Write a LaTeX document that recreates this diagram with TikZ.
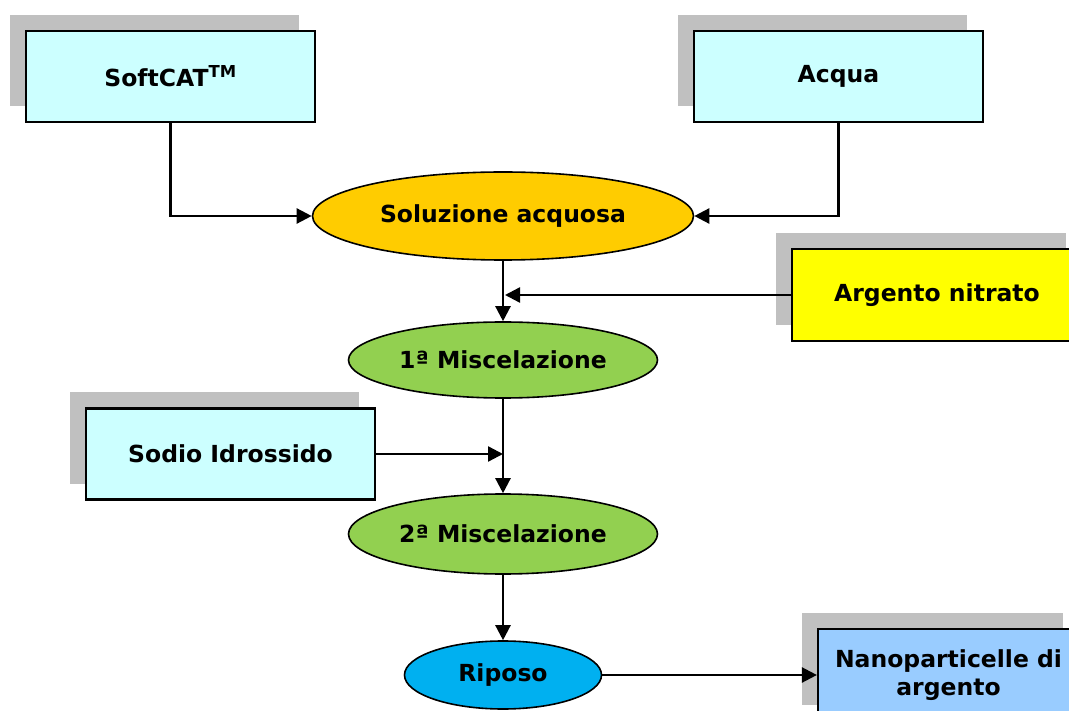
\documentclass[tikz,border=0pt]{standalone}
\usepackage{fontspec}
\setmainfont{DejaVu Sans}
\usetikzlibrary{shapes.geometric,arrows.meta,shadows}
\definecolor{cyanbox}{HTML}{CCFFFF}
\definecolor{orangeell}{HTML}{FFCC00}
\definecolor{yellowbox}{HTML}{FFFF00}
\definecolor{greenell}{HTML}{92D050}
\definecolor{blueell}{HTML}{00B0F0}
\definecolor{lightbluebox}{HTML}{99CCFF}
\definecolor{shadowgray}{HTML}{C0C0C0}
\tikzset{
  lbl/.style={font=\fontsize{23.5}{28}\selectfont\bfseries, text=black, align=center},
  boxnode/.style={lbl, draw=black, line width=2.2pt, rectangle, inner sep=0pt,
    minimum width=289pt, minimum height=91pt,
    general shadow={fill=shadowgray, draw=none, shadow xshift=-16pt, shadow yshift=16pt}},
  ellnode/.style={lbl, draw=black, line width=1.6pt, ellipse, inner sep=0pt},
  conn/.style={line width=2.4pt, -{Triangle[length=15pt,width=15pt]}}
}
\begin{document}
\begin{tikzpicture}[x=1pt,y=-1pt]
\useasboundingbox (0,0) rectangle (1069,711);
\fill[white] (0,0) rectangle (1069,711);
\clip (0,0) rectangle (1069,711);

\node[boxnode, fill=cyanbox] (soft) at (170.5,76.5) {SoftCAT\textsuperscript{TM}};
\node[boxnode, fill=cyanbox] (acqua) at (838.5,76.5) {Acqua};
\node[boxnode, fill=yellowbox, minimum width=290pt, minimum height=92pt] (argento) at (937,295) {Argento nitrato};
\node[boxnode, fill=cyanbox] (sodio) at (230.5,454) {Sodio Idrossido};
\node[boxnode, fill=lightbluebox, minimum width=261pt, minimum height=92pt] (nano) at (948.5,675) {Nanoparticelle di\\argento};

\node[ellnode, fill=orangeell, minimum width=381pt, minimum height=88pt] (sol) at (503,216) {Soluzione acquosa};
\node[ellnode, fill=greenell, minimum width=309pt, minimum height=76pt] (mix1) at (503,360) {1ª Miscelazione};
\node[ellnode, fill=greenell, minimum width=309pt, minimum height=80pt] (mix2) at (503,534) {2ª Miscelazione};
\node[ellnode, fill=blueell, minimum width=197pt, minimum height=68pt] (riposo) at (503,675) {Riposo};

\coordinate (j1) at (505,295);
\coordinate (j2) at (503,454);

\draw[conn] (soft.south) |- (sol.west);
\draw[conn] (acqua.south) |- (sol.east);
\draw[conn] (sol.south) -- (mix1.north);
\draw[conn] (argento.west) -- (j1);
\draw[conn] (mix1.south) -- (mix2.north);
\draw[conn] (sodio.east) -- (j2);
\draw[conn] (mix2.south) -- (riposo.north);
\draw[conn] (riposo.east) -- (nano.west);
\end{tikzpicture}
\end{document}
